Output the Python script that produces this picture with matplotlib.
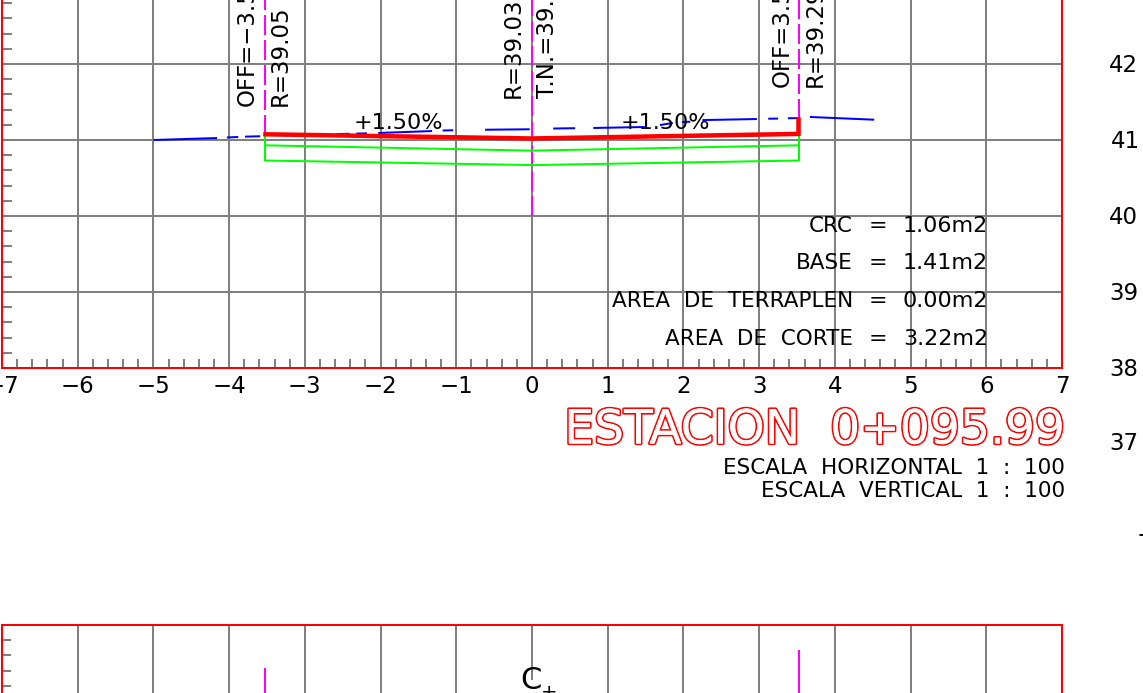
import numpy as np
import matplotlib
matplotlib.use("Agg")
import matplotlib.pyplot as plt
import matplotlib.patheffects as pe

# ---- data -------------------------------------------------------------
x_ticks = [-7, -6, -5, -4, -3, -2, -1, 0, 1, 2, 3, 4, 5, 6, 7]
elev_labels = [42, 41, 40, 39, 38, 37]
grid_elev = [39, 40, 41, 42]

# terrain pieces (offset, elevation), one list per visible dash
terrain_x = [[-5.0, -4.16], [-4.03, -3.88], [-3.79, -3.59], [-2.58, -2.41], [-2.32, -2.18],
             [-2.03, -1.32], [-1.18, -1.04], [-0.62, -0.03], [0.28, 0.57], [0.81, 1.49],
             [1.69, 1.86], [1.98, 2.09], [2.25, 2.97], [3.12, 3.25], [3.38, 3.51], [3.67, 4.52]]
terrain_y = [[41.0, 41.026], [41.033, 41.040], [41.044, 41.049], [41.078, 41.082], [41.085, 41.087],
             [41.092, 41.118], [41.125, 41.128], [41.135, 41.141], [41.151, 41.155], [41.158, 41.171],
             [41.197, 41.224], [41.237, 41.240], [41.262, 41.276], [41.280, 41.282], [41.286, 41.288],
             [41.303, 41.267]]

road_x = [-3.52, 0.0, 3.52, 3.52]
road_y = [41.075, 41.02, 41.08, 41.27]
base_top_x = [-3.52, 0.0, 3.52]
base_top_y = [40.93, 40.86, 40.93]
base_low_x = [-3.52, 0.0, 3.52]
base_low_y = [40.73, 40.67, 40.73]
side_x = [-3.52, 3.52]
side_top = [41.07, 41.07]
side_low = [40.73, 40.73]

axis_x = [-3.52, 0.0, 3.52]
axis_low = [41.07, 40.0, 41.27]
lower_axis_x = [-3.52, 3.52]
lower_axis_top = [34.03, 34.27]

slope_labels = ["+1.50%", "+1.50%"]
slope_x = [-1.76, 1.76]
vertical_labels = ["OFF=\u22123.5", "R=39.05", "R=39.03", "T.N.=39.", "OFF=3.5", "R=39.29"]
vertical_x = [-3.76, -3.32, -0.25, 0.20, 3.30, 3.74]
area_names = ["CRC", "BASE", "AREA DE TERRAPLEN", "AREA DE CORTE"]
area_values = ["1.06m2", "1.41m2", "0.00m2", "3.22m2"]
title = "ESTACION  0+095.99"
scale_labels = ["ESCALA  HORIZONTAL  1  :  100", "ESCALA  VERTICAL  1  :  100"]

# ---- style ------------------------------------------------------------
plt.rcParams["font.family"] = ["DejaVu Sans"]
W, H = 1143, 693
GREY = "#808080"
px = 72 / 100  # one pixel in points
FS = 16.5
fig = plt.figure(figsize=(W / 100, H / 100), dpi=100, facecolor="white")

ax = fig.add_axes([2 / W, (H - 368) / H, 1060 / W, 368 / H])
ax.set_xlim(-7, 7)
ax.set_ylim(38, 38 + 368 / 76)
ax2 = fig.add_axes([2 / W, 0, 1060 / W, 68 / H])
ax2.set_xlim(-7, 7)
ax2.set_ylim(34.6 - 68 / 76, 34.6)

# ---- frames, grid, ticks ----------------------------------------------
for a in (ax, ax2):
    a.set_facecolor("none")
    a.set_xticks(x_ticks)
    a.set_axisbelow(True)
    for s in a.spines.values():
        s.set_color("red")
        s.set_linewidth(2 * px)
    a.tick_params(axis="both", which="major", length=0)

ax.spines["top"].set_visible(False)
ax2.spines["bottom"].set_visible(False)

ax.set_yticks(grid_elev)
ax.set_yticklabels([])
ax.set_xticklabels([str(v).replace("-", "\u2212") for v in x_ticks], fontsize=FS)
ax.tick_params(axis="x", which="major", pad=5)
ax.set_xticks(np.arange(-7, 7.01, 0.2), minor=True)
ax.set_yticks(np.arange(38, 42.81, 0.2), minor=True)
ax.tick_params(axis="x", which="minor", direction="in", length=9 * px, width=2 * px, color=GREY)
ax.tick_params(axis="y", which="minor", direction="in", length=10 * px, width=2 * px, color=GREY)
ax.grid(True, which="major", color=GREY, linewidth=2 * px)

ax2.set_xticklabels([])
ax2.set_yticks([])
ax2.set_yticks([34.4, 34.2, 34.0, 33.8], minor=True)
ax2.tick_params(axis="y", which="minor", direction="in", length=9 * px, width=2 * px, color=GREY)
ax2.tick_params(axis="x", which="both", length=0)
ax2.vlines([v for v in x_ticks[1:-1] if v != 0], 33.7, 34.6, color=GREY, linewidth=2 * px, zorder=1)
ax2.vlines([0], 33.876, 34.6, color=GREY, linewidth=2 * px, zorder=1)

# ---- section marks ----------------------------------------------------
dash = (0, (20 / 2, 5 / 2))
ax.vlines(axis_x, axis_low, 42.9, color="#ff00ff", linewidth=2 * px, linestyles=[dash], zorder=3)
ax2.vlines(lower_axis_x, 33.7, lower_axis_top, color="#ff00ff", linewidth=2 * px, zorder=3)

for xs, ys in zip(terrain_x, terrain_y):
    ax.plot(xs, ys, color="#0000ff", linewidth=2 * px, solid_capstyle="butt", zorder=4)
ax.plot(base_top_x, base_top_y, color="#00ff00", linewidth=2 * px, zorder=4)
ax.plot(base_low_x, base_low_y, color="#00ff00", linewidth=2 * px, zorder=4)
ax.vlines(side_x, side_low, side_top, color="#00ff00", linewidth=2 * px, zorder=4)
ax.plot(road_x, road_y, color="#ff0000", linewidth=4.5 * px, solid_joinstyle="miter", zorder=5)

# ---- texts ------------------------------------------------------------
y_of = lambda p: 38 + (368 - p) / 76
x_of = lambda p: (p - 532) / 75.7

for lab, xp in zip(slope_labels, slope_x):
    ax.text(xp, y_of(123), lab, fontsize=16, ha="center", va="center", zorder=6)
for lab, xp, yb in zip(vertical_labels, vertical_x, [y_of(106), y_of(106), y_of(98), y_of(98), y_of(87), y_of(87)]):
    ax.text(xp, yb, lab, fontsize=FS, rotation=90, ha="center", va="bottom", zorder=6, clip_on=False)

for name, val, yp in zip(area_names, area_values, [226, 263, 301, 339]):
    ax.text(x_of(853), y_of(yp), "  ".join(name.split()), fontsize=15.5, ha="right", va="center", zorder=6)
    ax.text(x_of(878), y_of(yp), "=", fontsize=16, ha="center", va="center", zorder=6)
    ax.text(x_of(988), y_of(yp), val, fontsize=16, ha="right", va="center", zorder=6)

for v, yp in zip(elev_labels, [65, 141, 217, 293, 369, 444]):
    xr = 1140 if v == 41 else 1138
    ax.text(x_of(xr), y_of(yp), str(v), fontsize=FS, ha="right", va="center", clip_on=False)
ax.text(x_of(1136), y_of(535), "\u2212", fontsize=FS, ha="left", va="center", clip_on=False)

ax.text(x_of(1065), y_of(431), title, fontsize=34, ha="right", va="center", color="white", clip_on=False,
        path_effects=[pe.withStroke(linewidth=2.4, foreground="red"), pe.Normal()])
ax.text(x_of(1065), y_of(468), scale_labels[0], fontsize=15.5, ha="right", va="center", clip_on=False)
ax.text(x_of(1065), y_of(491), scale_labels[1], fontsize=15.5, ha="right", va="center", clip_on=False)

ax2.text(-0.02, 34.6 - 55 / 76, "C", fontsize=22, ha="center", va="center", clip_on=False)
ax2.text(x_of(549), 34.6 - 67 / 76, "+", fontsize=14, ha="center", va="center", clip_on=False)

fig.savefig("out.png", dpi=100)
